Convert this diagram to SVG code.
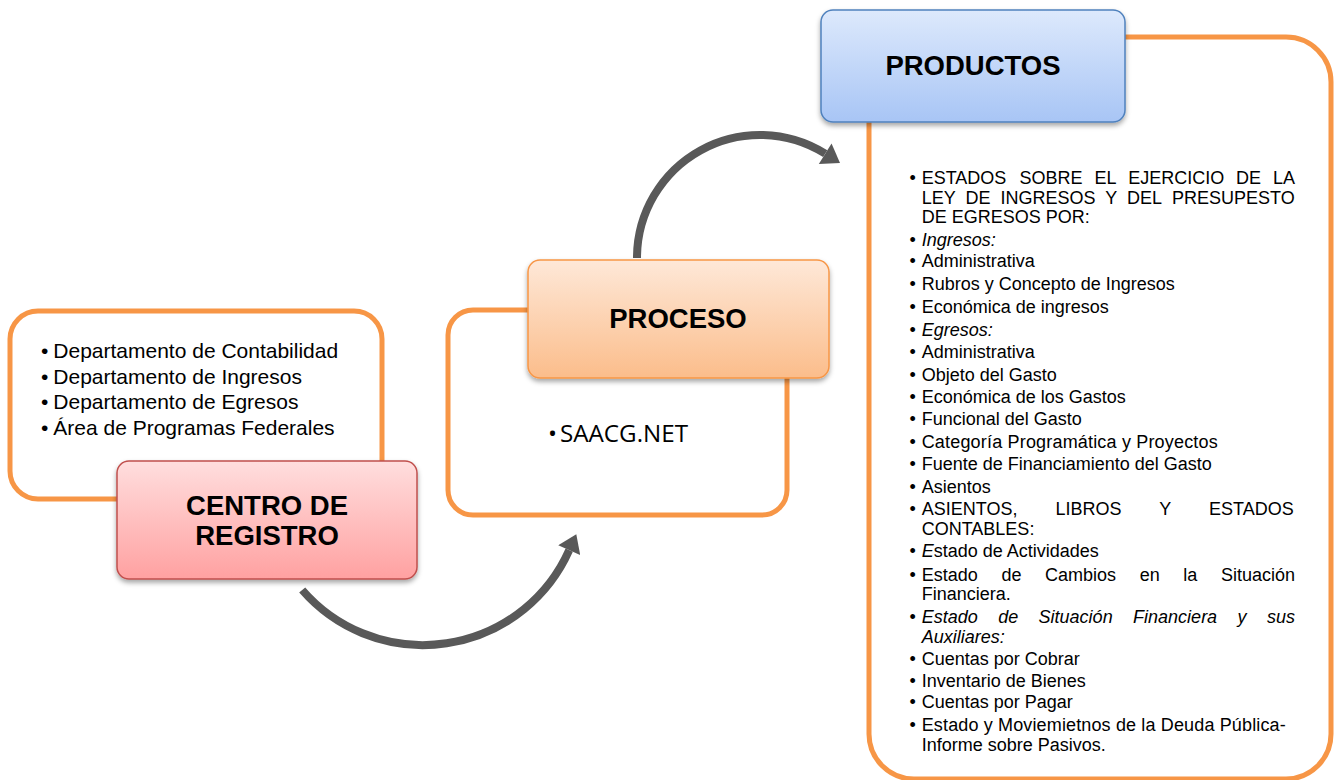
<svg xmlns="http://www.w3.org/2000/svg" width="1336" height="780" viewBox="0 0 1336 780">
<style>
  .outer { fill: #ffffff; stroke: #f79646; stroke-width: 5; }
  .title { font-family: "Liberation Sans", Arial, sans-serif; font-weight: bold; font-size: 27.5px; fill: #000; text-anchor: middle; }
  .lst { font-family: "Liberation Sans", Arial, sans-serif; font-size: 21px; fill: #000; }
  .prd { font-family: "Liberation Sans", Arial, sans-serif; font-size: 18px; fill: #000; }
  .it { font-style: italic; }
  .conn { fill: none; stroke: #595959; stroke-width: 8; }
</style>
<defs>
  <linearGradient id="gRed" x1="0" y1="0" x2="0" y2="1">
    <stop offset="0" stop-color="#ffdede"/>
    <stop offset="1" stop-color="#ffa1a1"/>
  </linearGradient>
  <linearGradient id="gOrange" x1="0" y1="0" x2="0" y2="1">
    <stop offset="0" stop-color="#fee8d8"/>
    <stop offset="1" stop-color="#fbbd8b"/>
  </linearGradient>
  <linearGradient id="gBlue" x1="0" y1="0" x2="0" y2="1">
    <stop offset="0" stop-color="#dde9fc"/>
    <stop offset="1" stop-color="#a8c5f5"/>
  </linearGradient>
  <filter id="shadow" x="-10%" y="-10%" width="120%" height="130%">
    <feDropShadow dx="0" dy="3" stdDeviation="2.5" flood-color="#000" flood-opacity="0.35"/>
  </filter>
  <marker id="arrow" markerUnits="userSpaceOnUse" markerWidth="24" markerHeight="24" refX="0" refY="11" orient="auto" viewBox="0 0 18 22">
    <path d="M0,0 L16,11 L0,22 Z" fill="#595959"/>
  </marker>
</defs>

<g id="connectors">
  <path class="conn" d="M302.2,590 A160,160 0 0 0 569.2,550.1" marker-end="url(#arrow)"/>
  <path class="conn" d="M637,258 A123,123 0 0 1 825.2,153.7" marker-end="url(#arrow)"/>
</g>

<g id="centro">
  <rect class="outer" x="10" y="311" width="372" height="188" rx="28"/>
  <text class="lst" x="41" y="358">•</text><text class="lst" x="53.3" y="358">Departamento de Contabilidad</text>
  <text class="lst" x="41" y="383.5">•</text><text class="lst" x="53.3" y="383.5">Departamento de Ingresos</text>
  <text class="lst" x="41" y="409">•</text><text class="lst" x="53.3" y="409">Departamento de Egresos</text>
  <text class="lst" x="41" y="434.5">•</text><text class="lst" x="53.3" y="434.5">Área de Programas Federales</text>
  <rect x="117" y="461" width="300" height="118" rx="12" fill="url(#gRed)" stroke="#c0504d" stroke-width="1.5" filter="url(#shadow)"/>
  <text class="title" x="267" y="515">CENTRO DE</text>
  <text class="title" x="267" y="545">REGISTRO</text>
</g>

<g id="proceso">
  <rect class="outer" x="448" y="310" width="339" height="205" rx="25"/>
  <text x="548" y="442" font-family="'Open Sans', 'Noto Sans', sans-serif" font-size="24" fill="#000">•<tspan x="560" textLength="128" lengthAdjust="spacingAndGlyphs">SAACG.NET</tspan></text>
  <rect x="528" y="260" width="301" height="118" rx="12" fill="url(#gOrange)" stroke="#f79646" stroke-width="1.5" filter="url(#shadow)"/>
  <text class="title" x="678" y="328">PROCESO</text>
</g>

<g id="productos">
  <rect class="outer" x="869" y="37" width="462" height="742" rx="45"/>
  <rect x="821" y="10" width="304" height="112" rx="12" fill="url(#gBlue)" stroke="#4f81bd" stroke-width="1.5" filter="url(#shadow)"/>
  <text class="title" x="973" y="75">PRODUCTOS</text>

  <g class="prd">
    <text x="909.5" y="184">•</text>
    <text y="184"><tspan x="921.7">ESTADOS</tspan><tspan x="1019.5">SOBRE</tspan><tspan x="1094.4">EL</tspan><tspan x="1128.2">EJERCICIO</tspan><tspan x="1236.1">DE</tspan><tspan x="1272.9">LA</tspan></text>
    <text y="203.5"><tspan x="921.7">LEY</tspan><tspan x="965.6">DE</tspan><tspan x="1000.4">INGRESOS</tspan><tspan x="1105.3">Y</tspan><tspan x="1127.1">DEL</tspan><tspan x="1172">PRESUPESTO</tspan></text>
    <text x="921.7" y="223">DE EGRESOS POR:</text>

    <text x="909.5" y="246">•</text><text x="921.7" y="246" class="it">Ingresos:</text>
    <text x="909.5" y="267">•</text><text x="921.7" y="267">Administrativa</text>
    <text x="909.5" y="290">•</text><text x="921.7" y="290">Rubros y Concepto de Ingresos</text>
    <text x="909.5" y="312.5">•</text><text x="921.7" y="312.5">Económica de ingresos</text>
    <text x="909.5" y="335.5">•</text><text x="921.7" y="335.5" class="it">Egresos:</text>
    <text x="909.5" y="358">•</text><text x="921.7" y="358">Administrativa</text>
    <text x="909.5" y="380.5">•</text><text x="921.7" y="380.5">Objeto del Gasto</text>
    <text x="909.5" y="402.8">•</text><text x="921.7" y="402.8">Económica de los Gastos</text>
    <text x="909.5" y="425.2">•</text><text x="921.7" y="425.2">Funcional del Gasto</text>
    <text x="909.5" y="447.8">•</text><text x="921.7" y="447.8" textLength="296" lengthAdjust="spacing">Categoría Programática y Proyectos</text>
    <text x="909.5" y="470">•</text><text x="921.7" y="470">Fuente de Financiamiento del Gasto</text>
    <text x="909.5" y="492.6">•</text><text x="921.7" y="492.6">Asientos</text>

    <text x="909.5" y="515">•</text>
    <text y="515"><tspan x="921.7">ASIENTOS,</tspan><tspan x="1055.5">LIBROS</tspan><tspan x="1159.2">Y</tspan><tspan x="1209">ESTADOS</tspan></text>
    <text x="921.7" y="534.5">CONTABLES:</text>

    <text x="909.5" y="557.3">•</text><text x="921.7" y="557.3"><tspan class="it">E</tspan>stado de Actividades</text>

    <text x="909.5" y="580.5">•</text>
    <text y="580.5"><tspan x="921.7">Estado</tspan><tspan x="1001.4">de</tspan><tspan x="1045">Cambios</tspan><tspan x="1139.7">en</tspan><tspan x="1183.3">la</tspan><tspan x="1221">Situación</tspan></text>
    <text x="921.7" y="600">Financiera.</text>

    <text x="909.5" y="623.3">•</text>
    <text y="623.3" class="it"><tspan x="921.7">Estado</tspan><tspan x="998.2">de</tspan><tspan x="1038.6">Situación</tspan><tspan x="1133.1">Financiera</tspan><tspan x="1237.6">y</tspan><tspan x="1267">sus</tspan></text>
    <text x="921.7" y="642.7" class="it">Auxiliares:</text>

    <text x="909.5" y="665">•</text><text x="921.7" y="665">Cuentas por Cobrar</text>
    <text x="909.5" y="686.5">•</text><text x="921.7" y="686.5">Inventario de Bienes</text>
    <text x="909.5" y="707.5">•</text><text x="921.7" y="707.5">Cuentas por Pagar</text>
    <text x="909.5" y="730.7">•</text><text x="921.7" y="730.7" textLength="364" lengthAdjust="spacing">Estado y Moviemietnos de la Deuda Pública-</text>
    <text x="921.7" y="750.7">Informe sobre Pasivos.</text>
  </g>
</g>
</svg>
